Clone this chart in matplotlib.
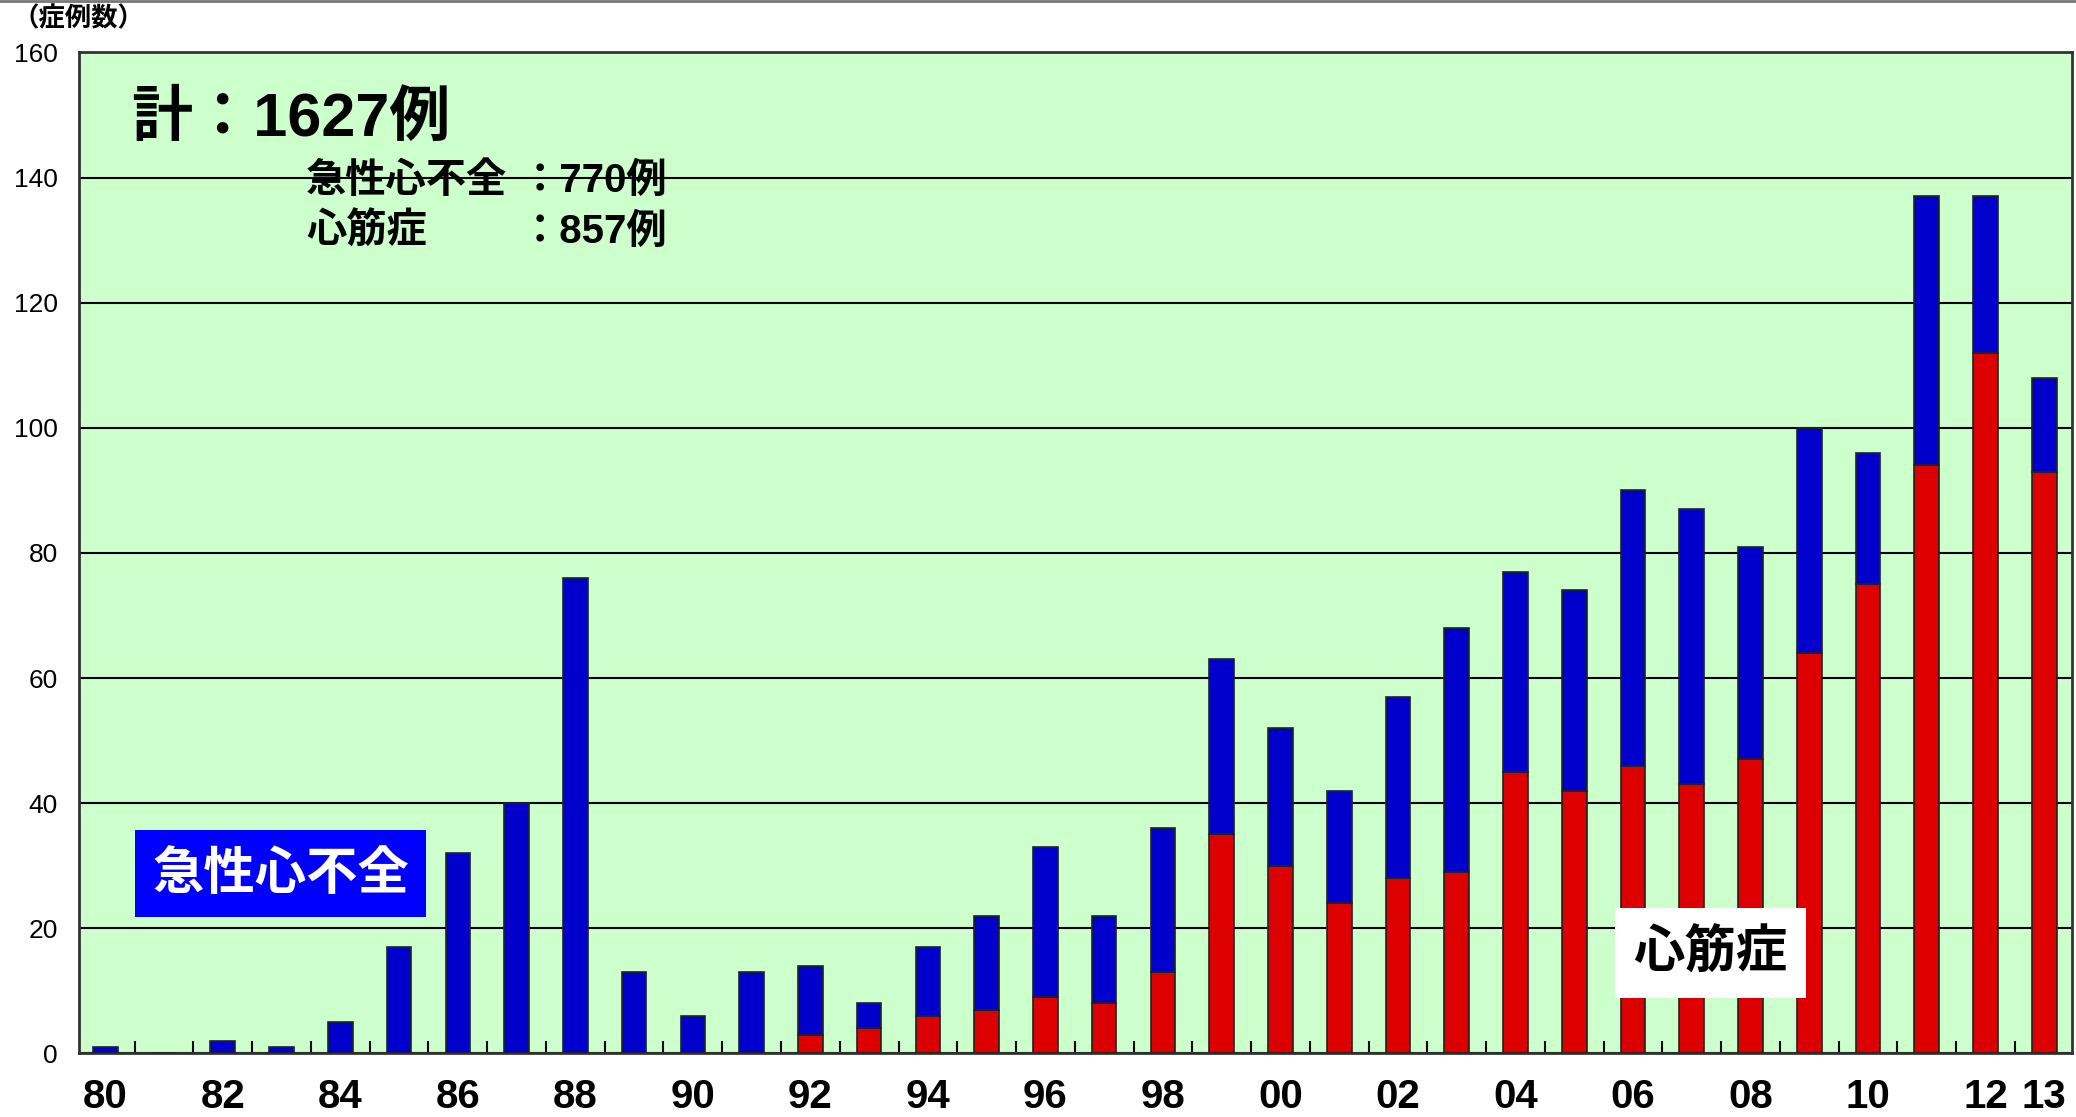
import matplotlib
matplotlib.use("Agg")
import matplotlib.pyplot as plt
from matplotlib import font_manager
import numpy as np

# years 1980-2013, counts per year
years = list(range(1980, 2014))
year_labels = {1980: "80", 1982: "82", 1984: "84", 1986: "86", 1988: "88",
               1990: "90", 1992: "92", 1994: "94", 1996: "96", 1998: "98",
               2000: "00", 2002: "02", 2004: "04", 2006: "06", 2008: "08",
               2010: "10", 2012: "12", 2013: "13"}
total = [1, 0, 2, 1, 5, 17, 32, 40, 76, 13, 6, 13, 14, 8, 17, 22, 33, 22, 36,
         63, 52, 42, 57, 68, 77, 74, 90, 87, 81, 100, 96, 137, 137, 108]
# 心筋症 (red, bottom)
cardiomyopathy = [0, 0, 0, 0, 0, 0, 0, 0, 0, 0, 0, 0, 3, 4, 6, 7, 9, 8, 13,
                  35, 30, 24, 28, 29, 45, 42, 46, 43, 47, 64, 75, 94, 112, 93]
# 急性心不全 (blue, top)
acute_hf = [t - c for t, c in zip(total, cardiomyopathy)]

installed = {f.name for f in font_manager.fontManager.ttflist}
narrow = "Liberation Sans Narrow" if "Liberation Sans Narrow" in installed else "Liberation Sans"
fam = [narrow, "Noto Sans CJK JP", "DejaVu Sans"]
jp = ["Noto Sans CJK JP", "DejaVu Sans"]
plt.rcParams["font.family"] = fam

fig = plt.figure(figsize=(20.76, 11.17), dpi=100)
ax = fig.add_axes([0.038, 0.057, 0.960, 0.896])
ax.set_facecolor("#CCFFCC")

x = np.arange(len(years))
w = 0.42
ax.bar(x, cardiomyopathy, w, color="#DD0000", edgecolor="#222222", linewidth=1.2, zorder=3)
ax.bar(x, acute_hf, w, bottom=cardiomyopathy, color="#0000CC",
       edgecolor="#222222", linewidth=1.2, zorder=3)

ax.set_xlim(-0.45, len(years) - 0.53)
ax.set_ylim(0, 160)
ax.set_yticks(range(0, 161, 20))
ax.yaxis.grid(True, color="black", linewidth=1.5, zorder=1)
ax.set_axisbelow(True)
ax.tick_params(axis="y", length=0, pad=15, labelsize=19)

tick_pos = [years.index(y) for y in year_labels]
ax.set_xticks(tick_pos)
ax.set_xticklabels(list(year_labels.values()), fontsize=29, fontweight="bold")
ax.tick_params(axis="x", length=0, pad=18)
ax.set_xticks(x[:-1] + 0.5, minor=True)
ax.tick_params(axis="x", which="minor", direction="in", length=9, width=1.5)

for s in ax.spines.values():
    s.set_linewidth(2)
    s.set_color("#333333")

# annotations
fig.text(0.006, 0.983, "（症例数）", family=jp, fontsize=19, fontweight="bold", va="center")
ax.text(0.026, 0.932, "計：1627例", transform=ax.transAxes, fontsize=44,
        fontweight="bold", va="center")
ax.text(0.114, 0.872, "急性心不全", transform=ax.transAxes, family=jp, fontsize=29,
        fontweight="bold", va="center")
ax.text(0.221, 0.872, "：770例", transform=ax.transAxes, fontsize=29,
        fontweight="bold", va="center")
ax.text(0.114, 0.821, "心筋症", transform=ax.transAxes, family=jp, fontsize=29,
        fontweight="bold", va="center")
ax.text(0.221, 0.821, "：857例", transform=ax.transAxes, fontsize=29,
        fontweight="bold", va="center")

ax.text(0.1013, 0.180, "急性心不全", transform=ax.transAxes, family=jp, fontsize=37,
        fontweight="bold", color="white", va="center", ha="center", zorder=5,
        bbox=dict(boxstyle="square,pad=0.33", facecolor="#0000FF", edgecolor="none"))
ax.text(0.8186, 0.1007, "心筋症", transform=ax.transAxes, family=jp, fontsize=37,
        fontweight="bold", color="black", va="center", ha="center", zorder=5,
        bbox=dict(boxstyle="square,pad=0.36", facecolor="white", edgecolor="none"))

fig.add_artist(plt.Line2D([0, 1], [0.999, 0.999], color="#777777", linewidth=2))

fig.savefig("out.png", dpi=100)
